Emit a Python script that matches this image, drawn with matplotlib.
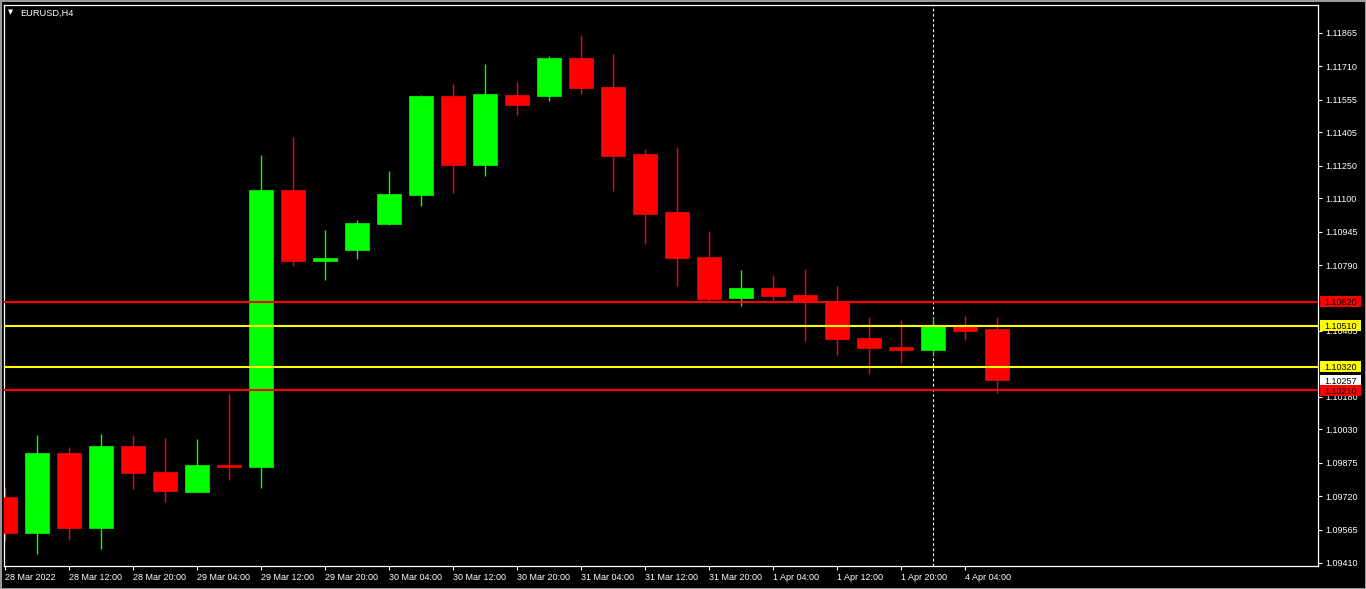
import numpy as np
import matplotlib
matplotlib.use("Agg")
import matplotlib.pyplot as plt
from matplotlib.patches import Rectangle

plt.rcParams['font.family'] = ['Liberation Sans', 'DejaVu Sans']
plt.rcParams['lines.scale_dashes'] = False

# ---------------- data ----------------
symbol_title = "EURUSD,H4"

opens = [1.09716, 1.09549, 1.09920, 1.09574, 1.09952, 1.09832, 1.09739, 1.09862,
         1.09856, 1.11138, 1.10810, 1.10861, 1.10982, 1.11116, 1.11573, 1.11255,
         1.11578, 1.11575, 1.11749, 1.11615, 1.11305, 1.11036, 1.10827, 1.10639,
         1.10684, 1.10651, 1.10618, 1.10452, 1.10411, 1.10398, 1.10506, 1.10494]
highs = [1.09757, 1.10003, 1.09947, 1.10008, 1.10003, 1.09989, 1.09984, 1.10193,
         1.11300, 1.11383, 1.10952, 1.10999, 1.11226, 1.11578, 1.11629, 1.11721,
         1.11638, 1.11758, 1.11856, 1.11768, 1.11328, 1.11337, 1.10948, 1.10767,
         1.10744, 1.10772, 1.10695, 1.10550, 1.10536, 1.10550, 1.10554, 1.10550]
lows = [1.09512, 1.09453, 1.09517, 1.09476, 1.09753, 1.09693, 1.09739, 1.09796,
        1.09757, 1.10787, 1.10722, 1.10820, 1.10977, 1.11065, 1.11125, 1.11204,
        1.11487, 1.11551, 1.11584, 1.11135, 1.10889, 1.10695, 1.10624, 1.10602,
        1.10624, 1.10440, 1.10375, 1.10287, 1.10338, 1.10370, 1.10444, 1.10199]
closes = [1.09549, 1.09920, 1.09574, 1.09952, 1.09827, 1.09743, 1.09864, 1.09856,
          1.11138, 1.10810, 1.10823, 1.10985, 1.11119, 1.11573, 1.11255, 1.11582,
          1.11533, 1.11749, 1.11612, 1.11297, 1.11028, 1.10824, 1.10633, 1.10684,
          1.10648, 1.10618, 1.10449, 1.10407, 1.10398, 1.10506, 1.10486, 1.10257]

x_label_pos = [0, 2, 4, 6, 8, 10, 12, 14, 16, 18, 20, 22, 24, 26, 28, 30]
x_labels = ["28 Mar 2022", "28 Mar 12:00", "28 Mar 20:00", "29 Mar 04:00",
            "29 Mar 12:00", "29 Mar 20:00", "30 Mar 04:00", "30 Mar 12:00",
            "30 Mar 20:00", "31 Mar 04:00", "31 Mar 12:00", "31 Mar 20:00",
            "1 Apr 04:00", "1 Apr 12:00", "1 Apr 20:00", "4 Apr 04:00"]

y_tick_labels = ["1.11865", "1.11710", "1.11555", "1.11405", "1.11250", "1.11100",
                 "1.10945", "1.10790", "1.10485", "1.10180",
                 "1.10030", "1.09875", "1.09720", "1.09565", "1.09410"]

level_prices = [1.10620, 1.10510, 1.10320, 1.10210]
level_colors = ["#FF0000", "#FFFF00", "#FFFF00", "#FF0000"]
last_price = 1.10257
separator_index = 29

UP_COLOR = "#00FF00"
DOWN_COLOR = "#FF0000"

# ---------------- layout ----------------
W, H = 1366, 589
fig = plt.figure(figsize=(W / 100, H / 100), dpi=100, facecolor="black")
ax_left, ax_right, ax_top, ax_bottom = 4, 1318, 4.5, 566
ax = fig.add_axes([ax_left / W, 1 - ax_bottom / H,
                   (ax_right - ax_left) / W, (ax_bottom - ax_top) / H])
ax.set_facecolor("black")

px = (1.11865 - 1.09410) / 530.0          # price per pixel
ax.set_ylim(1.09410 - (ax_bottom - 563) * px, 1.11865 + (33 - ax_top) * px)
ax.set_xlim((ax_left - 5.3) / 32.0, (ax_right - 5.3) / 32.0)

# separator
ax.axvline(separator_index, color="white", lw=0.8, linestyle=(0, (2.0, 1.7)), zorder=1)

# candles
for i, (o, h, l, c) in enumerate(zip(opens, highs, lows, closes)):
    col = UP_COLOR if c > o else DOWN_COLOR
    ax.vlines(i, l, h, color=col, lw=1.0, zorder=2)
    ax.bar(i, abs(c - o), bottom=min(o, c), width=0.76, color=col,
           edgecolor=col, lw=0.5, zorder=3)

# horizontal levels
for p, col in zip(level_prices, level_colors):
    ax.axhline(p, color=col, lw=1.5, zorder=4)

# spines / ticks
for s in ax.spines.values():
    s.set_color("white")
    s.set_linewidth(0.9)

ax.yaxis.tick_right()
ax.set_yticks([float(t) for t in y_tick_labels])
ax.set_yticklabels(y_tick_labels)
ax.tick_params(axis="y", colors="white", length=3, width=0.8, pad=2, labelsize=6.5)

ax.set_xticks(x_label_pos)
ax.set_xticklabels(x_labels)
ax.tick_params(axis="x", colors="white", length=3, width=0.8, pad=2.3, labelsize=6.5)
for t in ax.get_xticklabels():
    t.set_ha("left")

# price boxes on right scale
ytr = ax.get_yaxis_transform()
bx0 = (1319.5 - ax_left) / (ax_right - ax_left)
bw = 41.5 / (ax_right - ax_left)
box_items = list(zip(level_prices, level_colors)) + [(last_price, "#FFFFFF")]
order = [0, 1, 2, 4, 3]
for k in order:
    p, col = box_items[k]
    ax.add_patch(Rectangle((bx0, p - 5.3 * px), bw, 10.6 * px, transform=ytr,
                           facecolor=col, edgecolor="none", clip_on=False, zorder=10))
    ax.text(bx0 + bw / 2, p, f"{p:.5f}", transform=ytr, color="black", fontsize=6.5,
            ha="center", va="center_baseline", clip_on=False, zorder=11)

# title
fig.text(20 / W, 1 - 13 / H, symbol_title, color="white", fontsize=6.7, va="center", ha="left")
fig.text(11 / W, 1 - 12.5 / H, "\u25BC", color="white", fontsize=4.8, va="center", ha="center",
         family="DejaVu Sans")

# window frame
fig.patches.append(Rectangle((0, 0), 1, 1, transform=fig.transFigure, fill=False,
                             edgecolor="#9a9a9a", lw=2.2))

fig.savefig("out.png", dpi=100, facecolor="black")
